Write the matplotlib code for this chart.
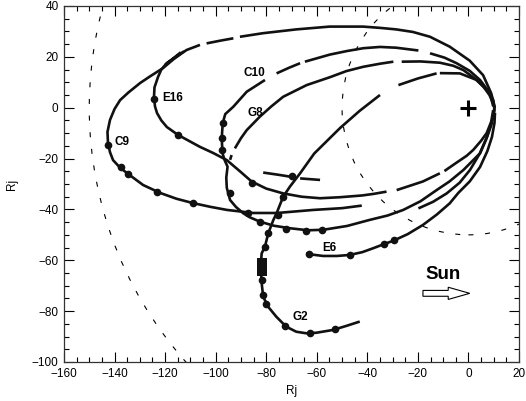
import numpy as np
import matplotlib
matplotlib.use("Agg")
import matplotlib.pyplot as plt
from matplotlib.patches import Circle, FancyArrow
from matplotlib.ticker import MultipleLocator

plt.rcParams['font.family'] = ['Liberation Sans', 'DejaVu Sans']

nan = np.nan

# orbit tracks (x, y in Rj); nan marks a data gap
c9_x = [-19.8, -14, -8.6, -3.5, 0.6, 4.5, 7.5, 9.6, 10.4, 9.0, 5.8, 0.5, -7.4, -15.2, -22, -28.6, -35, -41.7,
        -54.9, -68.1, -81.3, -90.4, nan, -93, -98, -103.6, nan, -106.2, -111.5, -113.4, -116.5, -120.8, -126,
        -129.9, -134.5, -137.8, -140, -141.8, -142.8, -142.6, -141.8, -140.6, -138, -135.1, -128.7, -122,
        -115.5, -109, -102, -95.5, -85.2, -75.7, -61.4, -50, -42.2]
c9_y = [-39.6, -37, -33.7, -29.5, -24.5, -18, -11, -4, 0.4, 5.7, 12.8, 18.5, 24, 27.9, 29.8, 30.8, 31.4, 31.9,
        31.9, 30.8, 29.3, 27.9, nan, 27.3, 26.4, 25.3, nan, 24.7, 22.7, 21.4, 19.2, 15.6, 12.3,
        9.7, 6, 3, -0.5, -4.8, -9.5, -13.9, -17.5, -20.6, -23.4, -25.7, -30.4, -33.5,
        -35.8, -37.5, -39, -40.2, -41.4, -41.4, -40.2, -39.5, -38.5]

c10_x = [-75.9, -71, -66.6, nan, -64.7, -54.8, -48, -41.6, -35, -28.6, -19.8, nan, -15.2, -9.5, -4.7, 0.5, 4.6,
         7.7, 9.8, 10.3, 9.0, 7.0, 4.6, -2, -7.5, -12.6, -19, -25.8, -32, -39, -48, -57.4, -63.5, -70.6, -77,
         -82.5, -86.5, -89.1, -92, -94.3, -95.6, -95.8, -95.3, -96.5, -97.3, -97.6, -97.2, -96.2, -93, -87.7,
         -80.5]
c10_y = [13.5, 15.7, 17.5, nan, 18.1, 20.9, 22.3, 23.4, 23.9, 23.6, 22.5, nan, 21.4, 19.7, 17.5, 14.5, 10.9,
         6.8, 3, -1, -7, -12.5, -17.9, -24.5, -29, -32.4, -36.8, -40.2, -42.4, -44.1, -46.5, -48, -48.2, -47.4,
         -46.4, -44.8, -43.1, -41.5, -39, -36.3, -31.5, -27.5, -23.2, -20.5, -17.9, -12, -6, -2.5, 0.4, 6.3,
         10.9]

e16_x = [-112.5, -116, -119.3, -121.5, -122.8, -124.2, -124.4, -124, -123.2, -121.5, -119.3, -114.9, -106.2,
         -101, -95.6, -90.4, -85.8, -80, -73.3, -66, -58.7, -50.8, -42, -37.6, -32.4, nan, -28.4, -24.4, -18,
         -11.3, nan, -9.5, -5, -0.7, 1.9, 5, 7.2, 9, 9.8, nan, -120, -113.8]
e16_y = [22.2, 19.8, 17.6, 15, 12.1, 8, 4.2, 0.5, -2.1, -5, -7.6, -10.7, -15.4,
         -17.8, -20.6, -25, -29, -31.8, -33.7, -35, -35.6, -35.2, -34.5, -33.9, -33, nan, -32.4, -31.1, -29,
         -25.8, nan, -24.9, -21.8, -18.9, -16.6, -13, -10, -5.5, -0.9, nan, 16.8, 21.8]

g8_x = [-94.3, -93.7, nan, -92.4, -90, -87.7, -82.5, -78, -73.3, -64, -54.8, -48.3, -41.6, -35, -29.7, nan,
        -26.4, -19, -11.3, -6, -2, 2.5, 5.9, 8.3, 9.8, nan, -81.2, -75, -70.6, nan, -66.6, -58.7]
g8_y = [-20.5, -18.6, nan, -16, -12, -8.8, -3.5, 0.5, 4.3, 8.9, 12, 14.4, 16.1, 17.3, 18.1, nan,
        18.1, 18.2, 17.7, 16.5, 14.8, 11.5, 8.3, 5, 1.7, nan, -25.5, -26.4, -27.1, nan, -27.8, -28.4]

g2_x = [-43, -48.3, -53.6, -60.2, -64.2, -68.1, -72.1, -76, -79.3, -81.2, -81.8, -82.2, -81.8, -80.5, -79.2,
        -77.2, -75.9, -73.3, -70.6, -66.6, -61, -50.8, -43, -35, nan, -27.7, -20, -12.6, nan, -11.3, -3.4,
        3.3, 8.5, 9.8]
g2_y = [-84.1, -85.8, -87.4, -88.5, -88.7, -88.1, -86.1, -82.2, -78.2, -74.3, -69, -62.5, -57.3, -54.6, -49.4,
        -44.2, -41.5, -35, -31, -25.8, -18, -8, -1.2, 5, nan, 8.9, 11.5, 13.5, nan, 13.6, 13.5,
        10.9, 5.7, 0.5]

e6_x = [-64.2, -61.5, -57.5, -52, -47, -42, -37.8, -32.5, -29.9, -24, -18, -12.5, -7.4, -4, 0.5, 4.6, 7.5,
        9.3, 10.3, 10.5]
e6_y = [-57.3, -57.8, -58.3, -58.3, -57.9, -56.8, -55.3, -53.3, -52.4, -49.7, -46.1, -42, -37.6, -33.5, -29,
        -23.3, -17, -11.5, -6, -2]

# thick event marks along the tracks
event_x = [-142.5, -137.5, -134.6, -123.1, -109.1, -87.1,
           -124.2, -114.8, -85.8,
           -97, -97.4, -97.4, -94.3, -82.5, -72.1, -64.2, -58,
           -73.3, -75.5, -79.2, -80.5, -81.8, -81.2, -80, -72.7, -62.8, -52.9,
           -70,
           -63, -47, -33.5, -29.5]
event_y = [-14.7, -23.2, -26.1, -33, -37.6, -41.3,
           3.5, -10.7, -29.5,
           -6.1, -12, -16.6, -33.7, -44.8, -47.8, -48.3, -48,
           -35, -42.2, -49.4, -54.6, -67.7, -73.6, -77, -85.8, -88.5, -87.1,
           -27,
           -57.5, -57.9, -53.6, -52.2]
g2_box = (-81.8, -62.5)

labels = ['C9', 'E16', 'C10', 'G8', 'E6', 'G2']
label_x = [-136.9, -117, -84.8, -84.5, -54.9, -66.4]
label_y = [-13.4, 3.8, 13.5, -2.2, -55, -82.5]

boundary_radii = [50, 150]

fig = plt.figure(figsize=(5.26, 4.01), dpi=100)
ax = fig.add_axes([64 / 526, 39 / 401, 455 / 526, 356 / 401])

for r in boundary_radii:
    ax.add_patch(Circle((0, 0), r, fill=False, color='black', lw=0.8, linestyle=(0, (4.5, 10.5))))

lw = 1.9
for xs, ys in [(c9_x, c9_y), (c10_x, c10_y), (e16_x, e16_y), (g8_x, g8_y), (g2_x, g2_y), (e6_x, e6_y)]:
    ax.plot(xs, ys, color='#111111', lw=lw, solid_capstyle='butt', solid_joinstyle='round')

ax.plot(event_x, event_y, 'o', color='#111111', ms=5.5, mew=0)
box = [(-0.55, -1), (0.55, -1), (0.55, 1), (-0.55, 1)]
ax.plot([g2_box[0]], [g2_box[1]], marker=box, color='#111111', ms=13, mew=0, linestyle='none')

for t, x, y in zip(labels, label_x, label_y):
    ax.text(x, y, t, fontsize=8.5, fontweight='bold', ha='center', va='center')

ax.plot([0], [0], marker='+', color='black', ms=11, mew=2.2)

ax.text(-10.1, -65.4, 'Sun', fontsize=13.5, fontweight='bold', ha='center', va='center')
ax.add_patch(FancyArrow(-18, -73, 18.5, 0, width=2.3, head_width=4.8, head_length=8.5,
                        length_includes_head=True, facecolor='white', edgecolor='black', lw=0.8))

ax.set_xlim(-160, 20)
ax.set_ylim(-100, 40)
ax.set_xticks(range(-160, 21, 20))
ax.set_yticks(range(-100, 41, 20))
ax.xaxis.set_minor_locator(MultipleLocator(5))
ax.yaxis.set_minor_locator(MultipleLocator(5))
ax.tick_params(which='both', direction='in', top=True, right=True, width=0.8, labelsize=8.5, pad=4)
ax.tick_params(which='major', length=7)
ax.tick_params(which='minor', length=3.5)
for s in ax.spines.values():
    s.set_linewidth(0.9)
    s.set_color('#333333')

ax.set_xlabel('Rj', fontsize=8.5, labelpad=4)
ax.set_ylabel('Rj', fontsize=8.5, labelpad=10)

fig.savefig('out.png', dpi=100)
